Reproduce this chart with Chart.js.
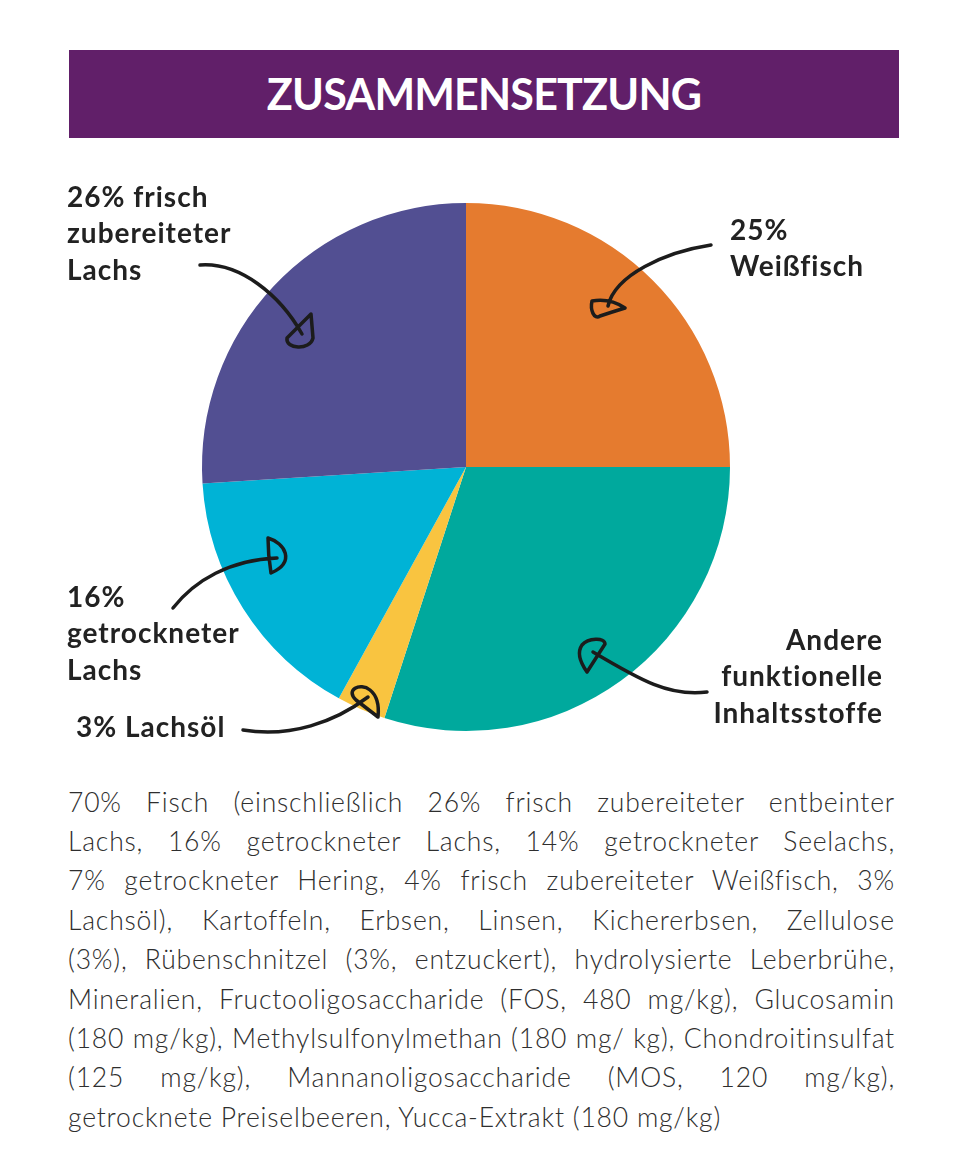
<!DOCTYPE html>
<html lang="de">
<head>
<meta charset="utf-8">
<script src="https://cdn.jsdelivr.net/npm/chart.js@4.4.1/dist/chart.umd.min.js"></script>
<style>
  body { margin: 0; background: #fff; font-family: Lato, "Open Sans", sans-serif; }
  #page { position: relative; width: 980px; height: 1155px; overflow: hidden; }
  #header { position: absolute; left: 69px; top: 50px; width: 830px; height: 88px; background: #611f69;
    color: #fff; font-weight: 700; font-size: 43px; line-height: 88px; text-align: center; letter-spacing: -0.8px; }
  #chartBox { position: absolute; left: 0; top: 0; width: 980px; height: 780px; }
  .lbl { position: absolute; font-weight: 700; font-size: 28px; line-height: 36.5px; letter-spacing: 1px;
    color: #222; white-space: nowrap; }
  #text { position: absolute; left: 68px; top: 782.6px; width: 827px; font-weight: 300; font-size: 26.5px;
    letter-spacing: 0.8px; line-height: 39.4px; color: #2e2e2e; }
  #text div { text-align: justify; text-align-last: justify; white-space: nowrap; }
  #text div.last { text-align-last: left; }
</style>
</head>
<body>
<div id="page">
  <div id="chartBox"><canvas id="myChart"></canvas></div>
  <div id="header">ZUSAMMENSETZUNG</div>
  <div class="lbl" style="left:67px; top:177.9px;">26% frisch<br>zubereiteter<br>Lachs</div>
  <div class="lbl" style="left:730px; top:210.9px;">25%<br>Weißfisch</div>
  <div class="lbl" style="left:67px; top:577.9px;">16%<br>getrockneter<br>Lachs</div>
  <div class="lbl" style="left:76px; top:707.9px;">3% Lachsöl</div>
  <div class="lbl" style="right:97px; top:620.9px; text-align:right;">Andere<br>funktionelle<br>Inhaltsstoffe</div>
  <div id="text"></div>
</div>
<script>
// slices, clockwise from 12 o'clock
const labels = ['25% Weißfisch', 'Andere funktionelle Inhaltsstoffe', '3% Lachsöl', '16% getrockneter Lachs', '26% frisch zubereiteter Lachs'];
const values = [25, 30, 3, 16, 26];
const colors = ['#e57b2f', '#00a99d', '#f9c440', '#00b3d6', '#524f92'];

const textLines = [
    '70% Fisch (einschließlich 26% frisch zubereiteter entbeinter',
    'Lachs, 16% getrockneter Lachs, 14% getrockneter Seelachs,',
    '7% getrockneter Hering, 4% frisch zubereiteter Weißfisch, 3%',
    'Lachsöl), Kartoffeln, Erbsen, Linsen, Kichererbsen, Zellulose',
    '(3%), Rübenschnitzel (3%, entzuckert), hydrolysierte Leberbrühe,',
    'Mineralien, Fructooligosaccharide (FOS, 480 mg/kg), Glucosamin',
    '(180 mg/kg), Methylsulfonylmethan (180 mg/ kg), Chondroitinsulfat',
    '(125 mg/kg), Mannanoligosaccharide (MOS, 120 mg/kg),',
    'getrocknete Preiselbeeren, Yucca-Extrakt (180 mg/kg)'
];

var box = document.getElementById('text');
textLines.forEach(function (t, i) {
    var d = document.createElement('div');
    d.textContent = t;
    if (i == textLines.length - 1) d.className = 'last';
    box.appendChild(d);
});

// hand drawn arrows
const arrows = {
    id: 'arrows',
    afterDraw(chart) {
        var c = chart.ctx;
        c.save();
        c.strokeStyle = '#1c1c1c';
        c.lineWidth = 3.5;
        c.lineCap = 'round';
        c.lineJoin = 'round';

        // 26% purple
        c.beginPath();
        c.moveTo(200, 265); c.bezierCurveTo(240, 262, 280, 295, 302, 334);
        c.moveTo(311, 314); c.lineTo(287, 338); c.bezierCurveTo(285, 349, 310, 351, 313, 338); c.closePath();
        c.stroke();

        // 25% orange
        c.beginPath();
        c.moveTo(711, 245); c.bezierCurveTo(665, 252, 615, 275, 608, 306);
        c.moveTo(625, 308); c.quadraticCurveTo(610, 298, 592, 301);
        c.bezierCurveTo(590, 310, 594, 320, 600, 316); c.quadraticCurveTo(612, 312, 625, 308);
        c.stroke();

        // 16% cyan
        c.beginPath();
        c.moveTo(173, 608); c.bezierCurveTo(195, 580, 230, 560, 277, 558);
        c.moveTo(268, 538); c.bezierCurveTo(285, 543, 296, 562, 271, 573); c.quadraticCurveTo(268, 555, 268, 538);
        c.stroke();

        // 3% yellow
        c.beginPath();
        c.moveTo(243, 730); c.bezierCurveTo(290, 738, 335, 722, 368, 697);
        c.moveTo(378, 717); c.lineTo(356, 700); c.bezierCurveTo(345, 690, 360, 682, 370, 690);
        c.quadraticCurveTo(380, 698, 378, 717);
        c.stroke();

        // andere teal
        c.beginPath();
        c.moveTo(707, 692); c.bezierCurveTo(670, 697, 640, 680, 593, 652);
        c.moveTo(587, 672); c.quadraticCurveTo(575, 655, 582, 645);
        c.bezierCurveTo(588, 638, 605, 637, 605, 644); c.quadraticCurveTo(598, 655, 587, 672);
        c.stroke();

        c.restore();
    }
};

var ctx = document.getElementById('myChart');
new Chart(ctx, {
    type: 'pie',
    data: {
        labels: labels,
        datasets: [{
            data: values,
            backgroundColor: colors,
            borderWidth: 0
        }]
    },
    options: {
        responsive: true,
        maintainAspectRatio: false,
        animation: false,
        layout: { padding: { left: 202, right: 250, top: 203, bottom: 49 } },
        plugins: {
            legend: { display: false },
            tooltip: { enabled: false }
        }
    },
    plugins: [arrows]
});
</script>
</body>
</html>
